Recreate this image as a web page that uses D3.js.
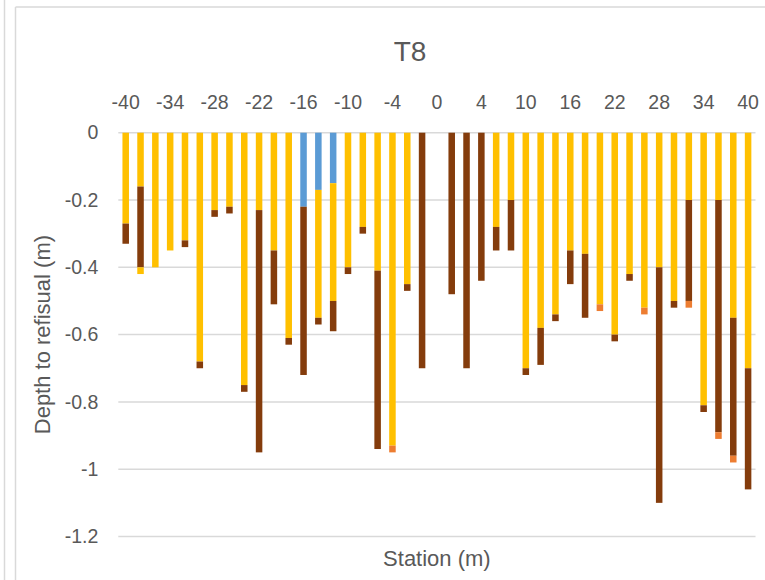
<!DOCTYPE html>
<html>
<head>
<meta charset="utf-8">
<script src="https://cdn.jsdelivr.net/npm/d3@7"></script>
<style>
  html, body { margin: 0; padding: 0; background: #fff; }
  svg { display: block; }
  text { font-family: "Liberation Sans", Arial, sans-serif; fill: #595959; }
</style>
</head>
<body>
<svg id="chart" width="765" height="580"></svg>
<script>
// Survey stations along transect T8 (m)
const stations = [-40, -38, -36, -34, -32, -30, -28, -26, -24, -22, -20, -18, -16, -14, -12, -10, -8, -6, -4,
  -2, -1, 0, 1, 2, 4, 6, 8, 10, 12, 14, 16, 18, 20, 22, 24, 26, 28, 30, 32, 34, 36, 38, 40];

// Layer thicknesses at each station (m, negative = downward), top layer first
const blueLayer = [0, 0, 0, 0, 0, 0, 0, 0, 0, 0, 0, 0, -0.22, -0.17, -0.15, 0, 0, 0, 0,
  0, 0, 0, 0, 0, 0, 0, 0, 0, 0, 0, 0, 0, 0, 0, 0, 0, 0, 0, 0, 0, 0, 0, 0];
const yellowLayer = [-0.27, -0.16, -0.40, -0.35, -0.32, -0.68, -0.23, -0.22, -0.75, -0.23, -0.35, -0.61, 0, -0.38, -0.35, -0.40, -0.28, -0.41, -0.93,
  -0.45, 0, 0, 0, 0, 0, -0.28, -0.20, -0.70, -0.58, -0.54, -0.35, -0.36, -0.51, -0.60, -0.42, -0.52, -0.40, -0.50, -0.20, -0.81, -0.20, -0.55, -0.70];
const brownLayer = [-0.06, -0.24, 0, 0, -0.02, -0.02, -0.02, -0.02, -0.02, -0.72, -0.16, -0.02, -0.50, -0.02, -0.09, -0.02, -0.02, -0.53, 0,
  -0.02, -0.70, 0, -0.48, -0.70, -0.44, -0.07, -0.15, -0.02, -0.11, -0.02, -0.10, -0.19, 0, -0.02, -0.02, 0, -0.70, -0.02, -0.30, -0.02, -0.69, -0.41, -0.36];
const lowerYellowLayer = [0, -0.02, 0, 0, 0, 0, 0, 0, 0, 0, 0, 0, 0, 0, 0, 0, 0, 0, 0,
  0, 0, 0, 0, 0, 0, 0, 0, 0, 0, 0, 0, 0, 0, 0, 0, 0, 0, 0, 0, 0, 0, 0, 0];
const orangeLayer = [0, 0, 0, 0, 0, 0, 0, 0, 0, 0, 0, 0, 0, 0, 0, 0, 0, 0, -0.02,
  0, 0, 0, 0, 0, 0, 0, 0, 0, 0, 0, 0, 0, -0.02, 0, 0, -0.02, 0, 0, -0.02, 0, -0.02, -0.02, 0];

// Depth axis ticks (m)
const depthTicks = [0, -0.2, -0.4, -0.6, -0.8, -1.0, -1.2];

const layers = [
  { key: "blue", values: blueLayer, color: "#5B9BD5" },
  { key: "yellow", values: yellowLayer, color: "#FFC000" },
  { key: "brown", values: brownLayer, color: "#843C0C" },
  { key: "yellow2", values: lowerYellowLayer, color: "#FFC000" },
  { key: "orange", values: orangeLayer, color: "#ED7D31" }
];

const rows = stations.map((s, i) => {
  const r = { station: s };
  layers.forEach(l => { r[l.key] = l.values[i]; });
  return r;
});

const svg = d3.select("#chart");
const W = 765, H = 580;
const plot = { left: 118.3, right: 755.5, top: 132.7, bottom: 536.5 };

// Outer frame lines
const frame = svg.append("g").attr("stroke", "#d9d9d9").attr("stroke-width", 1.5).attr("fill", "none");
frame.append("line").attr("x1", 4.5).attr("x2", 4.5).attr("y1", 0).attr("y2", H);
frame.append("line").attr("x1", 15.5).attr("x2", 15.5).attr("y1", 7).attr("y2", H);
frame.append("line").attr("x1", 15.5).attr("x2", W).attr("y1", 7).attr("y2", 7);

const x = d3.scaleBand()
  .domain(stations)
  .range([plot.left, plot.right])
  .paddingInner(0.56)
  .paddingOuter(0.28);

const y = d3.scaleLinear()
  .domain([0, -1.2])
  .range([plot.top, plot.bottom]);

// Horizontal gridlines
svg.append("g")
  .selectAll("line")
  .data(depthTicks)
  .join("line")
  .attr("x1", plot.left)
  .attr("x2", plot.right)
  .attr("y1", d => y(d))
  .attr("y2", d => y(d))
  .attr("stroke", "#d9d9d9")
  .attr("stroke-width", 1.5);

// Stacked bars
const stack = d3.stack()
  .keys(layers.map(l => l.key))
  .offset(d3.stackOffsetDiverging);
const series = stack(rows);

svg.append("g")
  .selectAll("g")
  .data(series)
  .join("g")
  .attr("fill", (d, i) => layers[i].color)
  .selectAll("rect")
  .data(d => d.filter(p => p[1] !== p[0]))
  .join("rect")
  .attr("x", d => x(d.data.station))
  .attr("width", x.bandwidth())
  .attr("y", d => y(Math.max(d[0], d[1])))
  .attr("height", d => Math.abs(y(d[0]) - y(d[1])));

// Depth axis (left)
const fmt = d => String(+d.toFixed(1));
const yAxis = svg.append("g")
  .attr("transform", `translate(${plot.left},0)`)
  .call(d3.axisLeft(y).tickValues(depthTicks).tickFormat(fmt).tickSize(0).tickPadding(20));
yAxis.select(".domain").remove();
yAxis.selectAll("text")
  .style("font-family", '"Liberation Sans", Arial, sans-serif')
  .style("font-size", "19.5px")
  .attr("fill", "#595959");

// Station axis (top), every third station labelled
const xAxis = svg.append("g")
  .attr("transform", `translate(0,${plot.top})`)
  .call(d3.axisTop(x)
    .tickValues(stations.filter((s, i) => i % 3 === 0))
    .tickSize(0)
    .tickPadding(24));
xAxis.select(".domain").remove();
xAxis.selectAll("text")
  .style("font-family", '"Liberation Sans", Arial, sans-serif')
  .style("font-size", "19.5px")
  .attr("fill", "#595959");

// Title and axis titles
svg.append("text")
  .attr("x", 410)
  .attr("y", 61)
  .attr("text-anchor", "middle")
  .style("font-size", "28px")
  .text("T8");

svg.append("text")
  .attr("x", (plot.left + plot.right) / 2)
  .attr("y", 566)
  .attr("text-anchor", "middle")
  .style("font-size", "22px")
  .text("Station (m)");

svg.append("text")
  .attr("transform", `translate(50,${(plot.top + plot.bottom) / 2}) rotate(-90)`)
  .attr("text-anchor", "middle")
  .style("font-size", "22px")
  .text("Depth to refisual (m)");
</script>
</body>
</html>
